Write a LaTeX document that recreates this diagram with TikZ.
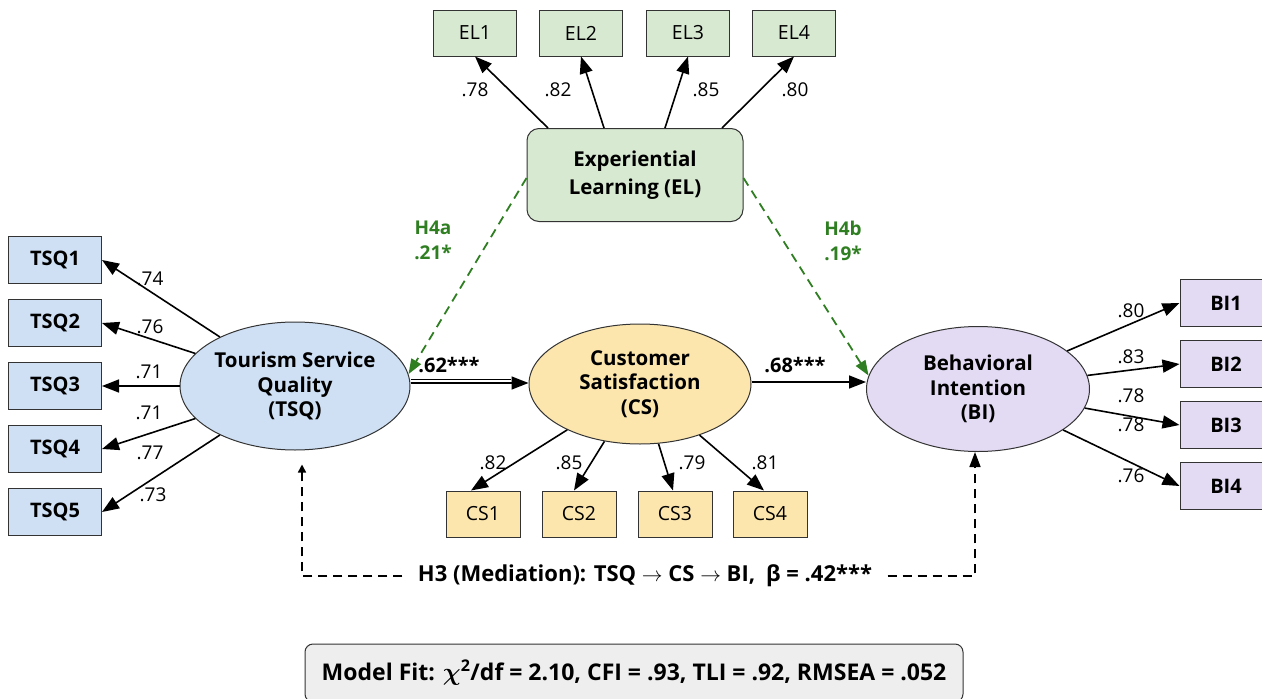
\documentclass[tikz,border=0pt]{standalone}
\usepackage{bm}
\usepackage{fontspec}
\setmainfont{Open Sans}
\usetikzlibrary{arrows.meta,shapes.geometric,calc}
\definecolor{tsqfill}{HTML}{CFE0F5}
\definecolor{csfill}{HTML}{FCE6AE}
\definecolor{bifill}{HTML}{E3DAF3}
\definecolor{elfill}{HTML}{D8E9D2}
\definecolor{fitfill}{HTML}{EEEEEE}
\definecolor{hgreen}{HTML}{2F7F22}
\definecolor{edge}{HTML}{333333}
\tikzset{
  latent/.style={ellipse, draw=edge, line width=1pt, inner sep=0pt, align=center,
    font=\fontsize{20.5}{24.5}\selectfont\bfseries},
  indbox/.style={rectangle, draw=edge, line width=1pt, minimum height=46pt, inner sep=0pt,
    font=\fontsize{19.5}{21}\selectfont},
  load/.style={font=\fontsize{19}{20}\selectfont, inner sep=0pt},
  conn/.style={line width=1.6pt, -{Triangle[length=17pt,width=13pt]}},
  moder/.style={hgreen, line width=1.8pt, dash pattern=on 9pt off 6pt,
    -{Triangle[length=15pt,width=11pt]}},
  hlab/.style={text=hgreen, font=\fontsize{19}{25}\selectfont\bfseries, align=center},
  medline/.style={line width=1.5pt, dash pattern=on 9pt off 6pt}
}
\begin{document}
\begin{tikzpicture}[x=1pt,y=-1pt]
\useasboundingbox (0,0) rectangle (1262,699);

% latent constructs
\node[latent, fill=tsqfill, minimum width=230pt, minimum height=128pt] (TSQ) at (295,386)
  {Tourism Service\\Quality\\(TSQ)};
\node[latent, fill=csfill, minimum width=222pt, minimum height=120pt] (CS) at (640,384)
  {Customer\\Satisfaction\\(CS)};
\node[latent, fill=bifill, minimum width=223pt, minimum height=125pt] (BI) at (978,389)
  {Behavioral\\Intention\\(BI)};
\node[rectangle, rounded corners=12pt, draw=edge, line width=1pt, fill=elfill,
  minimum width=216pt, minimum height=93pt, align=center,
  font=\fontsize{20.5}{28}\selectfont\bfseries] (EL) at (635,175) {Experiential\\Learning (EL)};

% EL indicators
\foreach \i/\x in {1/475,2/581,3/688,4/794}
  \node[indbox, fill=elfill, minimum width=83pt] (EL\i) at (\x,33) {EL\i};
% TSQ indicators
\foreach \i/\y in {1/260,2/323,3/386,4/449,5/512}
  \node[indbox, fill=tsqfill, minimum width=93pt, minimum height=47pt, font=\fontsize{20}{21}\selectfont\bfseries] (TSQ\i) at (55,\y) {TSQ\i};
% CS indicators
\foreach \i/\x in {1/483,2/579,3/675,4/770}
  \node[indbox, fill=csfill, minimum width=74pt] (CS\i) at (\x,514) {CS\i};
% BI indicators
\foreach \i/\y in {1/303,2/364,3/425,4/486}
  \node[indbox, fill=bifill, minimum width=92pt, minimum height=47pt, font=\fontsize{20}{21}\selectfont\bfseries] (BI\i) at (1226,\y) {BI\i};

% loadings: EL
\draw[conn] ([xshift=-87pt]EL.north) -- (EL1.south);
\draw[conn] ([xshift=-31pt]EL.north) -- (EL2.south);
\draw[conn] ([xshift=30pt]EL.north) -- (EL3.south);
\draw[conn] ([xshift=87pt]EL.north) -- (EL4.south);
\node[load] (lel1) at (475,90) {.78};
\node[load] (lel2) at (558,90) {.82};
\node[load] (lel3) at (706,90) {.85};
\node[load] (lel4) at (795,90) {.80};

% loadings: TSQ
\foreach \i in {1,...,5}
  \draw[conn] (TSQ) -- (TSQ\i.east);
\node[load] (lt1) at (150,279) {.74};
\node[load] (lt2) at (150,327) {.76};
\node[load] (lt3) at (149,372) {.71};
\node[load] (lt4) at (149,413) {.71};
\node[load] (lt5) at (150,453) {.77};
\node[load] (lt6) at (153,495) {.73};

% loadings: CS
\draw[conn] (CS) -- ([xshift=-12pt]CS1.north);
\draw[conn] (CS) -- ([xshift=-5pt]CS2.north);
\draw[conn] (CS) -- ([xshift=-2pt]CS3.north);
\draw[conn] (CS) -- ([xshift=-6pt]CS4.north);
\node[load] (lc1) at (493,463) {.82};
\node[load] (lc2) at (569,463) {.85};
\node[load] (lc3) at (692,463) {.79};
\node[load] (lc4) at (765,463) {.81};

% loadings: BI
\foreach \i in {1,...,4}
  \draw[conn] (BI) -- (BI\i.west);
\node[load] (lb1) at (1131,311) {.80};
\node[load] (lb2) at (1131,357) {.83};
\node[load] (lb3) at (1131,396) {.78};
\node[load] (lb4) at (1131,425) {.78};
\node[load] (lb5) at (1131,476) {.76};

% structural paths
\draw[conn] ([yshift=3pt]TSQ.east) -- ([yshift=3pt]TSQ.east -| CS.west);
\draw[line width=0.9pt] ([yshift=6.5pt]TSQ.east) -- ([yshift=6.5pt,xshift=-18pt]TSQ.east -| CS.west);
\node[font=\fontsize{20}{21}\selectfont\bfseries] (p1) at (449,365) {.62***};
\draw[conn] ([yshift=2pt]CS.east) -- ([yshift=2pt]CS.east -| BI.west);
\node[font=\fontsize{20}{21}\selectfont\bfseries] (p2) at (795,365) {.68***};

% moderation paths
\draw[moder] ([yshift=-3pt]EL.west) -- (TSQ.6);
\draw[moder] ([yshift=-3pt]EL.east) -- (BI.173);
\node[hlab] (h4a) at (433,240) {H4a\\.21*};
\node[hlab] (h4b) at (843,241) {H4b\\.19*};

% mediation bracket
\node[font=\fontsize{22}{24}\selectfont\bfseries] (h3) at (645,576)
  {H3 (Mediation): TSQ $\rightarrow$ CS $\rightarrow$ BI,\enspace β = .42***};
\draw[medline, -{Triangle[length=8pt,width=8pt]}, shorten >=14pt]
  ([xshift=-12pt]h3.west) -| ([xshift=7pt]TSQ.south);
\draw[medline, -{Triangle[length=15pt,width=11pt]}]
  ([xshift=12pt]h3.east) -| ([xshift=-3pt]BI.south);

% model fit summary
\node[rectangle, rounded corners=8pt, draw=edge, line width=1pt, fill=fitfill,
  minimum width=658pt, minimum height=58pt, font=\fontsize{23}{26}\selectfont\bfseries]
  (fit) at (634,673) {Model Fit: $\bm{\chi}^{\mathbf{2}}$/df = 2.10, CFI = .93, TLI = .92, RMSEA = .052};
\end{tikzpicture}
\end{document}
